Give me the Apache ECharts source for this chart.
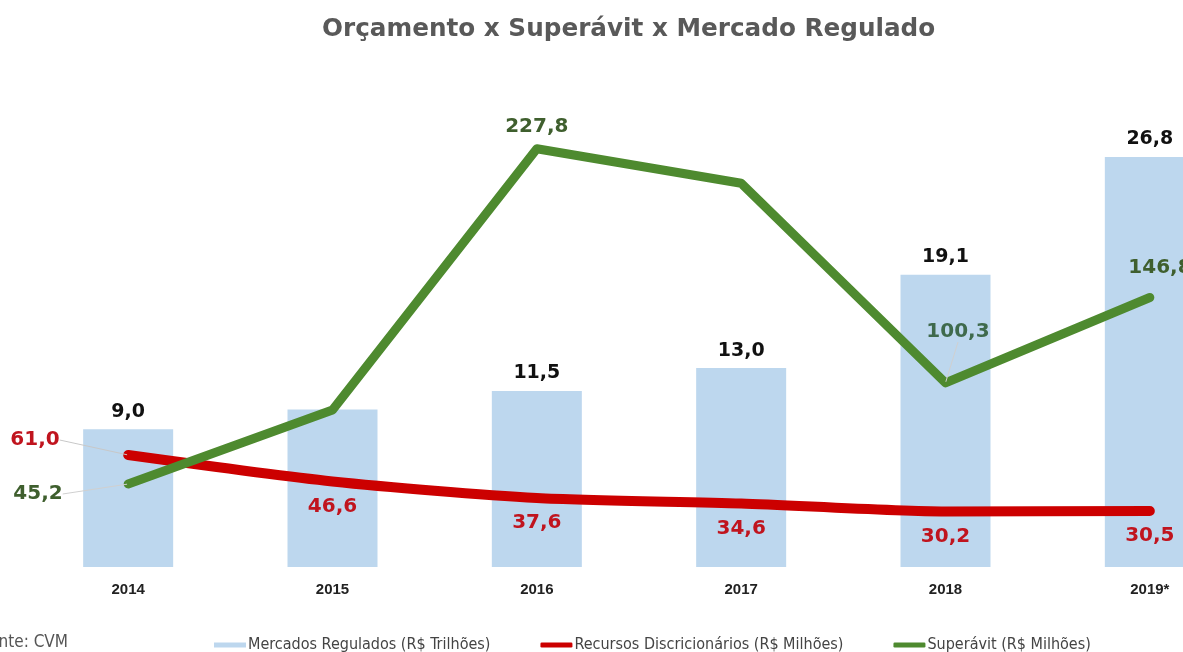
<!DOCTYPE html>
<html>
<head>
<meta charset="utf-8">
<script src="https://cdn.jsdelivr.net/npm/echarts@6/dist/echarts.min.js"></script>
<style>
  html, body { margin: 0; padding: 0; background: #fff; }
  #main { width: 1183px; height: 652px; }
</style>
</head>
<body>
<div id="main"></div>
<script>
// anos
const anos = ['2014', '2015', '2016', '2017', '2018', '2019*'];
// Mercados Regulados (R$ Trilhões)
const mercados = [9.0, 10.3, 11.5, 13.0, 19.1, 26.8];
// Recursos Discricionários (R$ Milhões)
const recursos = [61.0, 46.6, 37.6, 34.6, 30.2, 30.5];
// Superávit (R$ Milhões)
const superavit = [45.2, 85.5, 227.8, 209.0, 100.3, 146.8];

const fmt = v => v.toFixed(1).replace('.', ',');
const narrow = '"Liberation Sans Narrow", "DejaVu Sans Condensed", Arial, sans-serif';
const arial = 'Arial, "Liberation Sans", sans-serif';
const wide = '"DejaVu Sans", Arial, sans-serif';

var dom = document.getElementById('main');
var myChart = echarts.init(dom, null, { renderer: 'canvas' });

// rótulos deslocados (com linha guia)
function moved(x, y) {
    return { x: x, y: y, align: 'center', verticalAlign: 'middle' };
}

var option = {
    animation: false,
    title: {
        text: 'Orçamento x Superávit x Mercado Regulado',
        left: 317,
        top: 12,
        textStyle: {
            color: '#595959',
            fontFamily: '"DejaVu Sans", sans-serif',
            fontWeight: 'bold',
            fontSize: 24.7
        }
    },
    graphic: [{
        type: 'text',
        left: -19,
        top: 634,
        style: {
            text: 'Fonte: CVM',
            fill: '#555',
            font: '17px ' + narrow
        }
    }],
    legend: {
        left: 209,
        top: 632,
        itemWidth: 32,
        itemHeight: 5,
        itemGap: 50,
        textStyle: { color: '#444', fontSize: 16, fontFamily: narrow, padding: [0, 0, 0, -3] },
        data: [
            { name: 'Mercados Regulados (R$ Trilhões)', icon: 'rect' },
            { name: 'Recursos Discricionários (R$ Milhões)', icon: 'roundRect' },
            { name: 'Superávit (R$ Milhões)', icon: 'roundRect' }
        ]
    },
    grid: { left: 26, width: 1226, top: 108, bottom: 85, outerBoundsMode: 'none' },
    xAxis: {
        type: 'category',
        data: anos,
        axisLine: { show: false },
        axisTick: { show: false },
        axisLabel: {
            margin: 15,
            color: '#222',
            fontWeight: 'bold',
            fontSize: 15,
            fontFamily: arial
        }
    },
    yAxis: [
        { type: 'value', min: 0, max: 30, show: false },
        { type: 'value', min: 0, max: 250, show: false }
    ],
    series: [
        {
            name: 'Mercados Regulados (R$ Trilhões)',
            type: 'bar',
            barWidth: 90,
            yAxisIndex: 0,
            itemStyle: { color: '#bdd7ee' },
            label: {
                show: true,
                position: 'top',
                distance: 8,
                color: '#111',
                fontWeight: 'bold',
                fontSize: 19,
                fontFamily: wide,
                formatter: p => p.dataIndex === 1 ? '' : fmt(p.value)
            },
            data: mercados
        },
        {
            name: 'Recursos Discricionários (R$ Milhões)',
            type: 'line',
            yAxisIndex: 1,
            smooth: 0.25,
            symbol: 'circle',
            symbolSize: 2,
            z: 3,
            lineStyle: { color: '#cc0000', width: 10, cap: 'round' },
            itemStyle: { color: '#cc0000' },
            label: {
                show: true,
                position: 'bottom',
                distance: 14,
                color: '#c0141e',
                fontWeight: 'bold',
                fontSize: 20,
                fontFamily: wide,
                formatter: p => fmt(p.value)
            },
            labelLine: { show: true, lineStyle: { color: '#c8c8c8', width: 1 } },
            labelLayout: function (p) {
                if (p.dataIndex === 0) return moved(35, 440);
            },
            data: recursos.map((v, i) => i === 0 ? { value: v } : { value: v, labelLine: { show: false } })
        },
        {
            name: 'Superávit (R$ Milhões)',
            type: 'line',
            yAxisIndex: 1,
            symbol: 'circle',
            symbolSize: 2,
            z: 4,
            lineStyle: { color: '#4e8a2f', width: 9, cap: 'round', join: 'round' },
            itemStyle: { color: '#4e8a2f' },
            label: {
                show: true,
                position: 'top',
                distance: 11,
                color: '#3f5f2e',
                fontWeight: 'bold',
                fontSize: 20,
                fontFamily: wide,
                formatter: p => (p.dataIndex === 1 || p.dataIndex === 3) ? '' : fmt(p.value)
            },
            labelLine: { show: true, lineStyle: { color: '#d0d0d0', width: 1 } },
            labelLayout: function (p) {
                if (p.dataIndex === 0) return moved(38, 494);
                if (p.dataIndex === 4) return moved(958, 332);
                if (p.dataIndex === 5) return moved(1160, 268);
            },
            data: superavit.map((v, i) => (i === 0 || i === 4) ? { value: v } : { value: v, labelLine: { show: false } })
        }
    ]
};

option.series[2].data[4].label = { color: '#3f6a4c' };

if (option && typeof option === 'object') {
    myChart.setOption(option);
}

window.addEventListener('resize', myChart.resize);
</script>
</body>
</html>
